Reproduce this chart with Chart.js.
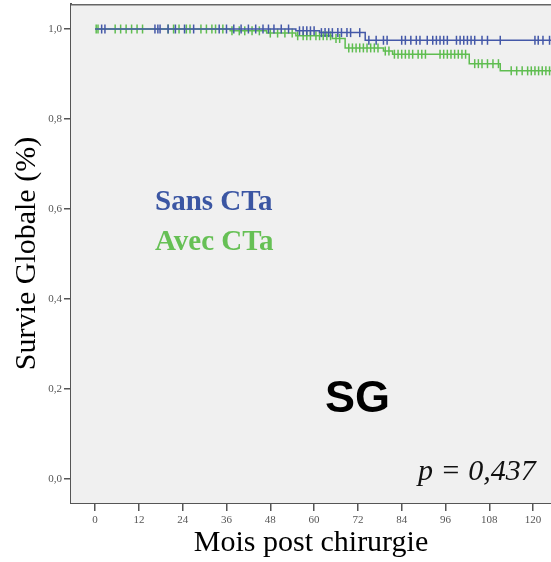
<!DOCTYPE html>
<html><head><meta charset="utf-8">
<script src="https://cdn.jsdelivr.net/npm/chart.js@4/dist/chart.umd.min.js"></script>
<style>html,body{margin:0;padding:0;background:#fff;overflow:hidden}#w{width:551px;height:562px;position:relative}</style>
</head><body><div id="w"><canvas id="c"></canvas></div>
<script>
// Kaplan-Meier steps (months, survival)
const blueTimes = [0, 55, 61.5, 74, 126];
const blueSurv  = [1.0, 0.996, 0.992, 0.975, 0.975];
const greenTimes = [0, 37, 47, 55, 65, 68.5, 79, 81.5, 102.5, 111, 126];
const greenSurv  = [1.0, 0.996, 0.991, 0.985, 0.979, 0.958, 0.951, 0.944, 0.923, 0.907, 0.907];
// censoring times (months)
const blueCensor = [1.8, 2.7, 16.4, 17.2, 17.8, 20, 22, 24.5, 27, 34, 36, 38, 40, 42, 44, 46, 47.5, 49, 51, 53, 56, 57, 58, 59, 60, 62, 63, 64, 65, 66.5, 67.5, 69, 70, 72.5, 75, 77, 79, 80, 84, 85, 86.5, 88, 89, 91, 92.5, 93.5, 94.5, 95.5, 96.5, 99, 100, 101, 102, 103, 104, 106, 107.5, 111, 120.5, 121.4, 122.7, 124.5];
const greenCensor = [0.3, 0.8, 5.5, 7, 8.5, 10, 11.5, 13, 20, 21.5, 23, 25, 26, 29, 30.5, 32, 33, 35, 37.5, 39.5, 41, 43, 45, 48, 50, 52, 54, 55.5, 57, 58, 59, 60.5, 61.5, 62.5, 63.5, 64.5, 66, 67, 69.5, 70.5, 71.5, 72.5, 73.5, 74.5, 75.5, 76.5, 77.5, 79.5, 80.5, 82, 83, 84, 85, 86, 87, 88.5, 89.5, 90.5, 94.5, 95.5, 96.5, 97.5, 98.5, 99.5, 100.5, 101.5, 104, 105, 106, 107.5, 109, 110.5, 114, 115.5, 117, 118.5, 119.5, 120.5, 121.5, 122.5, 123.5, 124.5];
const xTicks = [0, 12, 24, 36, 48, 60, 72, 84, 96, 108, 120];
const yTicks = [0, 0.2, 0.4, 0.6, 0.8, 1.0];
const groupLabels = ["Sans CTa", "Avec CTa"];
const panelLabel = "SG";
const pLabel = "p = 0,437";

const BLUE = '#4458a8', GREEN = '#5fbd50';
function survAt(times, surv, t){ let s = surv[0]; for (let i=0;i<times.length;i++){ if (times[i] <= t) s = surv[i]; } return s; }
const curve = (T,S) => T.map((t,i)=>({x:t,y:S[i]}));
const cens = (C,T,S) => C.map(t=>({x:t,y:survAt(T,S,t)}));
const noPad = s => { s.paddingLeft = 0; s.paddingRight = 0; s.paddingTop = 0; s.paddingBottom = 0; };

const decor = {
  id:'decor',
  beforeDatasetsDraw(chart){
    const {ctx, chartArea:a} = chart;
    ctx.save();
    ctx.fillStyle = '#f0f0f0';
    ctx.fillRect(a.left, a.top, a.right-a.left, a.bottom-a.top);
    ctx.restore();
  },
  afterDatasetsDraw(chart){
    const {ctx, chartArea:a} = chart;
    ctx.save();
    ctx.strokeStyle = '#666'; ctx.lineWidth = 1.5;
    ctx.beginPath(); ctx.moveTo(a.left, a.top+0.75); ctx.lineTo(a.right, a.top+0.75); ctx.stroke();
    ctx.textBaseline = 'alphabetic'; ctx.textAlign = 'left';
    ctx.font = 'bold 29px "Liberation Serif"';
    ctx.fillStyle = '#3b56a3'; ctx.fillText(groupLabels[0], a.left+84, 210);
    ctx.fillStyle = '#66c055'; ctx.fillText(groupLabels[1], a.left+84, 250);
    ctx.font = 'bold 45px "Liberation Sans"'; ctx.fillStyle = '#000';
    ctx.fillText(panelLabel, a.left+254, 412);
    ctx.font = 'italic 30px "Liberation Serif"'; ctx.fillStyle = '#111';
    ctx.fillText(pLabel, a.left+347, 480);
    ctx.restore();
  }
};

new Chart(document.getElementById('c'), {
  type: 'line',
  data: { datasets: [
    { data: curve(blueTimes, blueSurv), borderColor: BLUE, borderWidth: 1.5, stepped: 'before', pointRadius: 0, fill: false },
    { data: cens(blueCensor, blueTimes, blueSurv), showLine: false, pointStyle: 'line', rotation: 90, pointRadius: 4.5, borderColor: BLUE, pointBorderWidth: 1.5 },
    { data: curve(greenTimes, greenSurv), borderColor: GREEN, borderWidth: 1.5, stepped: 'before', pointRadius: 0, fill: false },
    { data: cens(greenCensor, greenTimes, greenSurv), showLine: false, pointStyle: 'line', rotation: 90, pointRadius: 4.5, borderColor: GREEN, pointBorderWidth: 1.5 }
  ]},
  options: {
    responsive: true, maintainAspectRatio: false, animation: false,
    layout: { autoPadding: false, padding: { left: 0, right: 0, top: 4, bottom: 0 } },
    plugins: { legend: { display: false }, tooltip: { enabled: false } },
    scales: {
      x: {
        type: 'linear', min: -6.6, max: 124.9,
        afterBuildTicks: s => { s.ticks = xTicks.map(v=>({value:v})); },
        afterFit: s => { s.height = 59; noPad(s); },
        border: { display: true, color: '#555', width: 2 },
        grid: { drawOnChartArea: false, drawTicks: true, tickLength: 8, tickColor: '#555', lineWidth: 1.5 },
        ticks: { font: { family: '"Liberation Serif"', size: 11 }, color: '#555', padding: 3, maxRotation: 0, autoSkip: false },
        title: { display: true, text: 'Mois post chirurgie', font: { family: '"Liberation Serif"', size: 30 }, color: '#000', padding: { top: 0, bottom: 1 } }
      },
      y: {
        type: 'linear', min: -0.0533, max: 1.0556,
        afterBuildTicks: s => { s.ticks = yTicks.map(v=>({value:v})); },
        afterFit: s => { s.width = 71; noPad(s); },
        border: { display: true, color: '#555', width: 2 },
        grid: { drawOnChartArea: false, drawTicks: true, tickLength: 7, tickColor: '#555', lineWidth: 1.5 },
        ticks: { font: { family: '"Liberation Serif"', size: 11 }, color: '#555', padding: 2, callback: v => v.toFixed(1).replace('.', ',') },
        title: { display: true, text: 'Survie Globale (%)', font: { family: '"Liberation Serif"', size: 30 }, color: '#000', padding: { top: 9, bottom: 0 } }
      }
    }
  },
  plugins: [decor]
});
</script>
</body></html>
